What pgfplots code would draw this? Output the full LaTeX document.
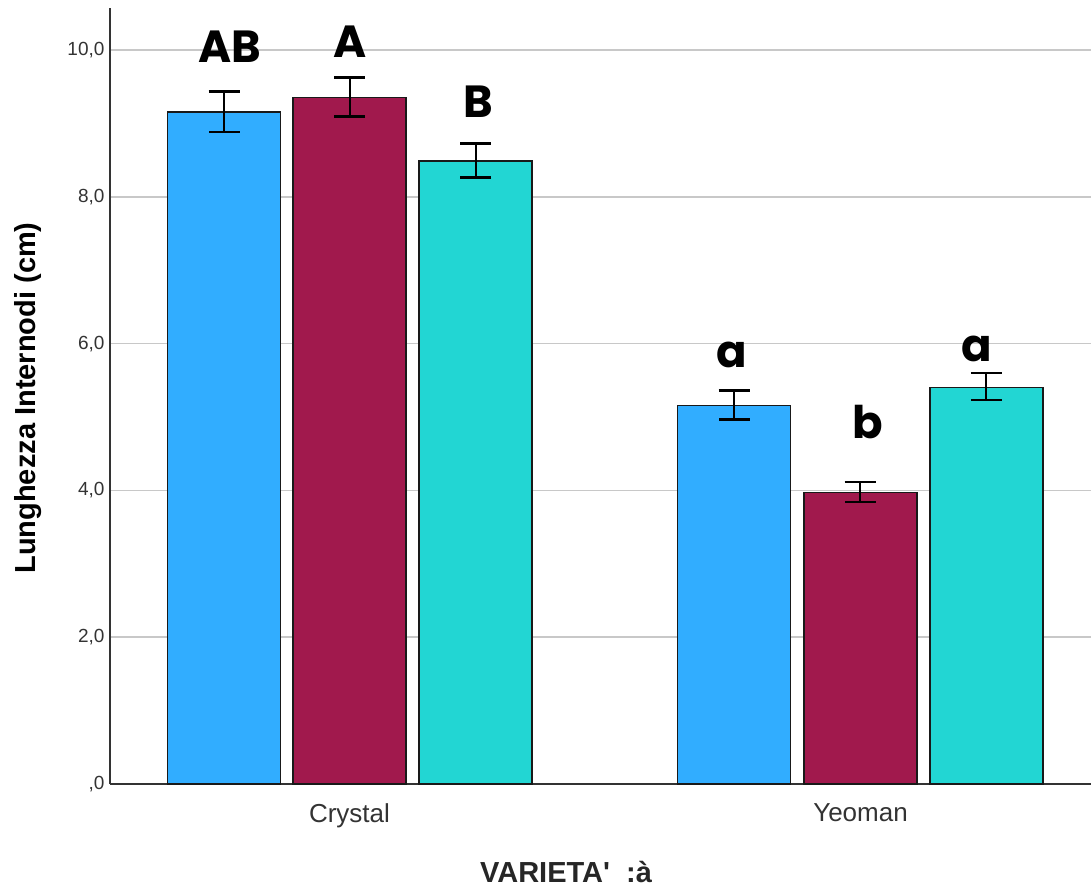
\documentclass[border=0pt]{standalone}
\usepackage{pgfplots}
\pgfplotsset{compat=1.18}
\usepackage{fontspec}
\setmainfont{Liberation Sans}
\newfontfamily\pop{Poppins}
\definecolor{cblue}{RGB}{49,173,255}
\definecolor{cmaroon}{RGB}{161,25,77}
\definecolor{cteal}{RGB}{34,214,211}
\definecolor{gridc}{RGB}{200,200,200}
\definecolor{tickc}{RGB}{51,51,51}
\pgfplotstableread{
x y ep em
224 9.155 0.282 0.272
734 5.159 0.200 0.195
}\tblue
\pgfplotstableread{
x y ep em
349.5 9.355 0.273 0.258
860.2 3.969 0.145 0.127
}\tmaroon
\pgfplotstableread{
x y ep em
475.5 8.488 0.236 0.223
986.3 5.404 0.195 0.172
}\tteal
\pgfplotsset{
  mybar/.style={ybar, bar width=113, bar shift=0pt, draw=black!90, line width=1.6pt,
    error bars/y dir=both, error bars/y explicit,
    error bars/error bar style={line width=2pt, black, solid},
    error bars/error mark options={rotate=90, mark size=15.5pt, line width=2.6pt, black}},
}
\begin{document}
\begin{tikzpicture}[x=1pt,y=1pt]
\useasboundingbox (0,0) rectangle (1091,891);
\begin{axis}[
  at={(110pt,107pt)}, anchor=south west,
  scale only axis, width=981pt, height=776pt,
  xmin=110, xmax=1091, ymin=0, ymax=10.572,
  axis lines*=left,
  axis line style={line width=2pt, color=tickc},
  ytick={0,2,4,6,8,10},
  yticklabels={{,0},{2,0},{4,0},{6,0},{8,0},{10,0}},
  xtick={349.5,860.5}, xticklabels={Crystal,Yeoman},
  major tick length=0pt,
  ymajorgrids, grid style={line width=1.6pt, color=gridc},
  y tick label style={font=\fontsize{19}{22}\selectfont, color=tickc, xshift=-2pt},
  x tick label style={font=\fontsize{26}{30}\selectfont, color=tickc, yshift=-16pt},
  clip=false,
]
\addplot[mybar, fill=cblue] table[x=x, y=y, y error plus=ep, y error minus=em] {\tblue};
\addplot[mybar, fill=cmaroon] table[x=x, y=y, y error plus=ep, y error minus=em] {\tmaroon};
\addplot[mybar, fill=cteal] table[x=x, y=y, y error plus=ep, y error minus=em] {\tteal};
\begin{scope}[every node/.style={font=\pop\bfseries\fontsize{45}{48}\selectfont, inner sep=0pt}]
\node at (axis cs:230,10.05) {AB};
\node at (axis cs:350.5,10.11) {A};
\node at (axis cs:478.7,9.30) {B};
\node at (axis cs:731.7,5.84) {a};
\node at (axis cs:867.5,4.93) {b};
\node at (axis cs:977,5.93) {a};
\end{scope}
\end{axis}
\node[rotate=90, font=\bfseries\fontsize{29}{33}\selectfont] at (28,493) {Lunghezza Internodi (cm)};
\node[font=\bfseries\fontsize{29}{33}\selectfont, color=black!85] at (566,19) {VARIETA\textquotesingle\ \ :à};
\end{tikzpicture}
\end{document}
